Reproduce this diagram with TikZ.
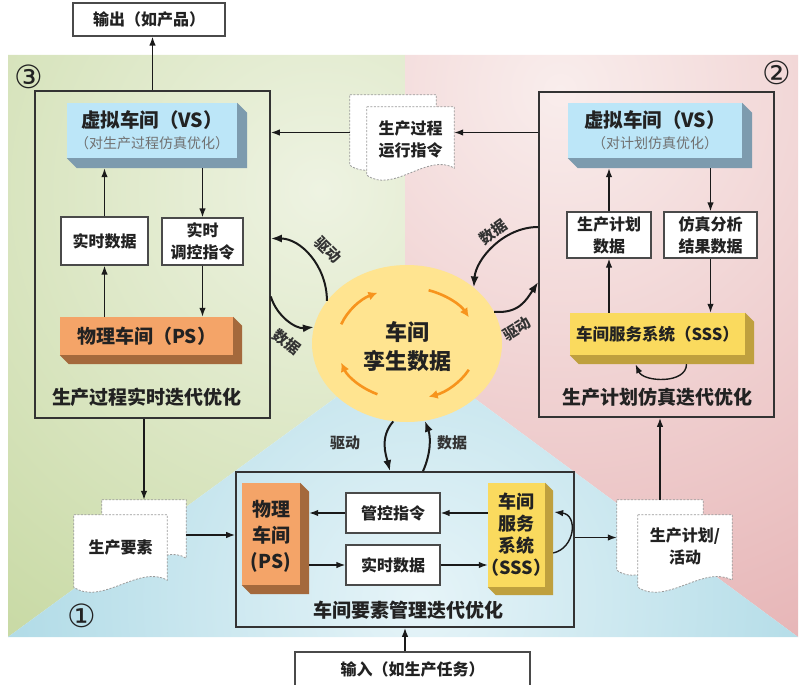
\documentclass[tikz,border=0pt]{standalone}
\usepackage{fontspec}
\setmainfont{Noto Sans CJK SC}
\newfontfamily\numfont{DejaVu Sans}
\usetikzlibrary{arrows.meta,calc,shapes.geometric}
\definecolor{txtc}{HTML}{222222}
\definecolor{framec}{HTML}{333333}
\definecolor{boxc}{HTML}{4A4A4A}
\definecolor{arrc}{HTML}{1A1A1A}
\definecolor{gin}{HTML}{EEF3E2}
\definecolor{gout}{HTML}{C3D69C}
\definecolor{pin}{HTML}{F9EDEC}
\definecolor{pout}{HTML}{E2A7A9}
\definecolor{bin}{HTML}{E6F4F8}
\definecolor{bout}{HTML}{7DC3D6}
\definecolor{vsc}{HTML}{BCE6F8}
\definecolor{vsd}{HTML}{7D9BAE}
\definecolor{psc}{HTML}{F4A468}
\definecolor{psd}{HTML}{A4693C}
\definecolor{ssc}{HTML}{FADA5E}
\definecolor{ssd}{HTML}{BFA03E}
\definecolor{ellc}{HTML}{FFE490}
\definecolor{orc}{HTML}{F7941D}
\definecolor{subc}{HTML}{707070}
\definecolor{docc}{HTML}{9A9A9A}
\newcommand{\mkdepth}[3]{\fill[#2] (#1.north east) -- ++(#3,-#3) -- ($(#1.south east)+(#3,-#3)$) -- ($(#1.south west)+(#3,-#3)$) -- (#1.south west) -- (#1.south east) -- cycle;}
\newcommand{\mkdoc}[1]{\path[docshape] (#1.north west) -- (#1.north east) -- ($(#1.south east)+(0,12)$) .. controls ($(#1.south east)!0.3!(#1.south west)+(0,28)$) and ($(#1.south east)!0.7!(#1.south west)+(0,-14)$) .. ($(#1.south west)+(0,5)$) -- cycle;}
\tikzset{
  every node/.style={text=txtc},
  framebox/.style={draw=framec, line width=1.6pt, inner sep=0pt},
  whitebox/.style={draw=boxc, line width=1.2pt, fill=white, inner sep=0pt, align=center, font=\fontsize{16}{22}\selectfont\bfseries},
  outbox/.style={draw=boxc, line width=1.2pt, fill=white, inner sep=0pt, font=\fontsize{16}{18}\selectfont\bfseries},
  vsface/.style={fill=vsc, inner sep=0pt},
  psface/.style={fill=psc, inner sep=0pt, font=\fontsize{19}{25}\selectfont\bfseries},
  sssface/.style={fill=ssc, inner sep=0pt, font=\fontsize{16.5}{22}\selectfont\bfseries},
  titletext/.style={inner sep=0pt, font=\fontsize{19.5}{22}\selectfont\bfseries},
  subtext/.style={inner sep=0pt, text=subc, font=\fontsize{14}{16}\selectfont},
  labeltext/.style={inner sep=0pt, font=\fontsize{19}{22}\selectfont\bfseries},
  vertext/.style={inner sep=0pt, align=center},
  doctext/.style={inner sep=0pt, align=center, font=\fontsize{16}{22}\selectfont\bfseries},
  docbox/.style={inner sep=0pt},
  docshape/.style={fill=white, draw=docc, line width=0.8pt, dash pattern=on 2pt off 1.5pt},
  smalllab/.style={inner sep=0pt, text=framec, font=\fontsize{15}{16}\selectfont\bfseries},
  numlab/.style={inner sep=0pt, font=\numfont\fontsize{32}{34}\selectfont},
  arr/.style={draw=arrc, line width=1.4pt, -{Latex[length=9pt,width=6.5pt]}},
  barr/.style={draw=arrc, line width=2pt, -{Latex[length=11pt,width=8pt]}},
  oarr/.style={draw=orc, line width=2.6pt, -{Latex[length=9pt,width=9pt]}},
}
\begin{document}
\begin{tikzpicture}[x=1pt,y=1pt]
\useasboundingbox (0,0) rectangle (812,-685);
% backgrounds
\begin{scope}
\clip (8,-55) -- (405,-55) -- (405,-347) -- (8,-637) -- cycle;
\shade[inner color=gin, outer color=gout] (320,-190) circle (620);
\end{scope}
\begin{scope}
\clip (405,-55) -- (798,-55) -- (798,-637) -- (405,-347) -- cycle;
\shade[inner color=pin, outer color=pout] (560,-90) circle (760);
\end{scope}
\begin{scope}
\clip (8,-637) -- (405,-347) -- (798,-637) -- cycle;
\shade[inner color=bin, outer color=bout] (420,-600) circle (820);
\end{scope}
% frames
\node[framebox, minimum width=235, minimum height=327] (f3) at (152.5,-254.5) {};
\node[framebox, minimum width=235, minimum height=325] (f2) at (656.5,-254.5) {};
\node[framebox, minimum width=338, minimum height=155] (f1) at (405,-549.5) {};
% circled numbers
\node[numlab] (n3) at (29,-77) {③};
\node[numlab] (n2) at (777,-73) {②};
\node[numlab] (n1) at (82,-616) {①};
% in / out
\node[outbox, minimum width=152, minimum height=33] (out) at (149,-19.5) {输出（如产品）};
\node[outbox, minimum width=235, minimum height=34] (inp) at (412.5,-669) {输入（如生产任务）};
% ---- region 3
\node[vsface, minimum width=170, minimum height=55] (vs3) at (152,-130.5) {};
\mkdepth{vs3}{vsd}{10}
\node[titletext] (vs3t) at ($(vs3.center)+(0,10.5)$) {虚拟车间（VS）};
\node[subtext] (vs3s) at ($(vs3.center)+(0,-12.5)$) {（对生产过程仿真优化）};
\node[whitebox, minimum width=87, minimum height=48] (rt3) at (104.5,-241) {实时数据};
\node[whitebox, minimum width=81, minimum height=47] (ct3) at (202.5,-241.5) {实时\\调控指令};
\node[psface, minimum width=173, minimum height=38] (ps3) at (146.5,-336) {物理车间（PS）};
\mkdepth{ps3}{psd}{9}
\node[labeltext] (lab3) at (147,-397) {生产过程实时迭代优化};
% ---- region 2
\node[vsface, minimum width=174, minimum height=55] (vs2) at (655,-130.5) {};
\mkdepth{vs2}{vsd}{10}
\node[titletext] (vs2t) at ($(vs2.center)+(0,10.5)$) {虚拟车间（VS）};
\node[subtext] (vs2s) at ($(vs2.center)+(0,-12.5)$) {（对计划仿真优化）};
\node[whitebox, minimum width=84, minimum height=46] (pd2) at (609,-235) {生产计划\\数据};
\node[whitebox, minimum width=93, minimum height=46] (sa2) at (710.5,-235) {仿真分析\\结果数据};
\node[sssface, minimum width=175, minimum height=42] (sss2) at (657.5,-334) {车间服务系统（SSS）};
\mkdepth{sss2}{ssd}{9}
\node[labeltext] (lab2) at (657,-397) {生产计划仿真迭代优化};
% ---- region 1
\node[psface, minimum width=58, minimum height=102] (ps1) at (271,-534) {};
\mkdepth{ps1}{psd}{9}
\node[vertext, font=\fontsize{19}{26}\selectfont\bfseries] (ps1t) at ($(ps1.center)+(0,-2)$) {物理\\车间\\(PS)};
\node[sssface, minimum width=57, minimum height=104] (sss1) at (516.5,-535) {};
\mkdepth{sss1}{ssd}{8}
\node[vertext, font=\fontsize{18}{22}\selectfont\bfseries] (sss1t) at (sss1.center) {车间\\服务\\系统\\（SSS）};
\node[whitebox, minimum width=94, minimum height=40] (gk1) at (393,-513) {管控指令};
\node[whitebox, minimum width=94, minimum height=40] (sj1) at (393,-565) {实时数据};
\node[labeltext] (lab1) at (408,-610) {车间要素管理迭代优化};
% ---- documents
\node[docbox, minimum width=84, minimum height=70] (d1a) at (144,-535) {};
\node[docbox, minimum width=93, minimum height=77] (d1b) at (120.5,-553.5) {};
\mkdoc{d1a}\mkdoc{d1b}
\node[doctext] (d1t) at ($(d1b.center)+(0,6)$) {生产要素};
\node[docbox, minimum width=86, minimum height=75] (d2a) at (660,-537.5) {};
\node[docbox, minimum width=94, minimum height=77] (d2b) at (685,-553.5) {};
\mkdoc{d2a}\mkdoc{d2b}
\node[doctext] (d2t) at ($(d2b.center)+(0,7)$) {生产计划/\\活动};
\node[docbox, minimum width=86, minimum height=75] (dta) at (393,-132.5) {};
\node[docbox, minimum width=87, minimum height=73] (dtb) at (410.5,-143.5) {};
\mkdoc{dta}\mkdoc{dtb}
\node[doctext] (dtt) at ($(dtb.center)+(0,4.5)$) {生产过程\\运行指令};
% ---- twin data ellipse
\node[ellipse, fill=ellc, minimum width=190, minimum height=157, inner sep=0pt] (tw) at (407,-343.5) {};
\node[vertext, font=\fontsize{22}{29}\selectfont\bfseries] (twt) at ($(tw.center)+(0,-3)$) {车间\\孪生数据};
\foreach \a/\b in {160/115, 72/28, -28/-72, -115/-160}
  \draw[oarr] ($(tw.center)+(\a:70 and 56)$) arc[start angle=\a, end angle=\b, x radius=70, y radius=56];
% ---- straight arrows
\draw[arr] (f3.north) -- (f3.north |- out.south);
\draw[arr] (inp.north -| f1.south) -- (f1.south);
\coordinate (vs3b) at ($(vs3.south)+(0,-10)$);
\draw[arr] (rt3.north) -- (rt3.north |- vs3b);
\draw[arr] (ct3.north |- vs3b) -- (ct3.north);
\draw[arr] (rt3.south |- ps3.north) -- (rt3.south);
\draw[arr] (ct3.south) -- (ct3.south |- ps3.north);
\coordinate (vs2b) at ($(vs2.south)+(0,-10)$);
\draw[arr] (pd2.north) -- (pd2.north |- vs2b);
\draw[arr] (sa2.north |- vs2b) -- (sa2.north);
\draw[arr] (pd2.south |- sss2.north) -- (pd2.south);
\draw[arr] (sa2.south) -- (sa2.south |- sss2.north);
\draw[arr] ($(sss2.south)+(29,-9)$) .. controls +(0,-20) and +(8,-18) .. ($(sss2.south)+(-22,-9)$);
\coordinate (ps1r) at ($(ps1.east)+(9,0)$);
\draw[arr] (sss1.west |- gk1.east) -- (gk1.east);
\draw[arr] (gk1.west) -- (gk1.west -| ps1r);
\draw[arr] (sj1.west -| ps1r) -- (sj1.west);
\draw[arr] (sj1.east) -- (sj1.east -| sss1.west);
\draw[arr] ($(sss1.east)+(8,-18)$) .. controls +(22,5) and +(24,-3) .. ($(sss1.east)+(9,23)$);
\draw[arr] (f3.south -| d1a.north) -- (d1a.north);
\draw[arr] (d1a.east) -- (d1a.east -| f1.west);
\draw[arr] (f1.east |- d2a.west) -- (d2a.west);
\draw[arr] (d2a.north) -- (d2a.north |- f2.south);
\draw[arr] (f2.west |- dta.east) -- (dtb.east |- dta.east);
\draw[arr] (dta.west) -- (dta.west -| f3.east);
% ---- curved arrows around ellipse
\draw[barr] (tw.152) .. controls +(0,35) and +(30,0) .. ($(f3.east)+(0,16)$);
\draw[barr] ($(f3.east)+(0,-42)$) .. controls +(6,-20) and +(-18,-2) .. (tw.170);
\draw[barr] ($(f2.west)+(0,27.5)$) .. controls +(-35,0) and +(2,28) .. (tw.40);
\draw[barr] (tw.20) .. controls +(25,-2) and +(-12,-18) .. ($(f2.west)+(0,-27.5)$);
\draw[barr] (tw.260) .. controls +(-14,-16) and +(-4,16) .. ($(f1.north)+(-15,0)$);
\draw[barr] ($(f1.north)+(18,0)$) .. controls +(8,18) and +(6,-16) .. (tw.283);
\node[smalllab, rotate=-45] (l1) at (328,-250) {驱动};
\node[smalllab, rotate=-37] (l2) at (287,-342) {数据};
\node[smalllab, rotate=36] (l3) at (493,-232) {数据};
\node[smalllab, rotate=32] (l4) at (517,-329) {驱动};
\node[smalllab] (l5) at (345,-443) {驱动};
\node[smalllab] (l6) at (452,-443) {数据};
\end{tikzpicture}
\end{document}
